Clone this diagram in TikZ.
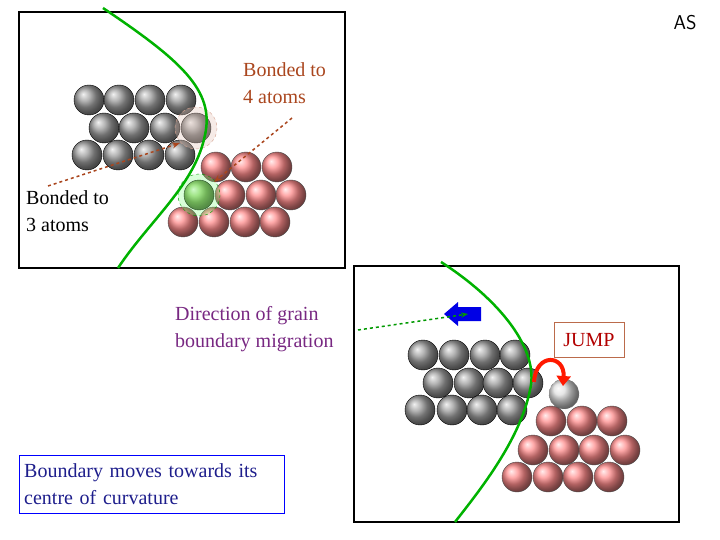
\documentclass[tikz,border=0pt]{standalone}
\usepackage{fontspec}
\setmainfont{Liberation Serif}
\usetikzlibrary{arrows.meta}
\definecolor{brn}{RGB}{170,70,30}
\definecolor{pur}{RGB}{120,40,130}
\definecolor{dblue}{RGB}{30,30,140}
\tikzset{
 gat/.style={circle,minimum size=30pt,inner sep=0pt,draw=black,thin,ball color=gray!75},
 rat/.style={circle,minimum size=30pt,inner sep=0pt,draw=black!70,thin,ball color=red!45},
 gb/.style={draw=green!70!black,line width=2.5pt},
 panel/.style={draw=black,line width=1.5pt},
 txt/.style={align=left,font=\fontsize{20}{27}\selectfont,inner sep=0pt,anchor=north west},
}
\begin{document}
\begin{tikzpicture}[x=1pt,y=-1pt]
\useasboundingbox (0,0) rectangle (720,540);
\node[font=\sffamily\fontsize{20}{20}\selectfont] (as) at (685,23) {AS};
% panel 1
\draw[panel] (19,12) rectangle (345,268);
\foreach \x in {89,119,150,181} \node[gat] at (\x,100) {};
\foreach \x in {104,134,165} \node[gat] at (\x,128) {};
\node[gat] (g4) at (196,128) {};
\foreach \x in {87,118,149,180} \node[gat] at (\x,155) {};
\foreach \x in {216,246,277} \node[rat] at (\x,167) {};
\node[circle,minimum size=30pt,inner sep=0pt,draw=black,ball color=green!45!brown!70] (g3) at (199,195) {};
\foreach \x in {230,261,291} \node[rat] at (\x,195) {};
\foreach \x in {183,214,245,275} \node[rat] at (\x,222) {};
\fill[brn!30,opacity=0.35] (196,128) circle (21);
\draw[brn!50,dashed] (196,128) circle (21);
\fill[green!50,opacity=0.3] (199,195) circle (21);
\draw[green!60!black,dashed] (199,195) circle (21);
\draw[gb] (103,8) .. controls (180,60) and (215,90) .. (205,135) .. controls (195,185) and (150,220) .. (118,268);
\node[txt,text=brn] (t4) at (243,62) {Bonded to\\4 atoms};
\node[txt] (t3) at (26,190) {Bonded to\\3 atoms};
\coordinate (a1) at (292,118);
\coordinate (a2) at (48,186);
\draw[brn,dashed,line width=1.5pt,-{Stealth[length=8pt]}] (a1) -- (214,182);
\draw[brn,dashed,line width=1.5pt,-{Stealth[length=8pt]}] (a2) -- (180,143);
% panel 2
\draw[panel] (354,266) rectangle (679,522);
\foreach \x in {423,454,485,515} \node[gat] at (\x,355) {};
\foreach \x in {438,469,498} \node[gat] at (\x,383) {};
\node[gat] (jm) at (528,383) {};
\foreach \x in {420,452,482,512} \node[gat] at (\x,410) {};
\node[circle,minimum size=30pt,inner sep=0pt,draw=gray,dashed,ball color=gray!25] (nw) at (564,394) {};
\foreach \x in {551,582,612} \node[rat] at (\x,421) {};
\foreach \x in {533,564,594,625} \node[rat] at (\x,450) {};
\foreach \x in {517,548,578,609} \node[rat] at (\x,477) {};
\draw[gb] (441,262) .. controls (500,300) and (540,350) .. (530,390) .. controls (520,440) and (480,490) .. (455,522);
\fill[blue!90!black] (458,302) -- (444,314) -- (458,326) -- (458,321) -- (481,321) -- (481,307) -- (458,307) -- cycle;
\node[txt,text=pur] (dir) at (175,306) {Direction of grain\\boundary migration};
\draw[green!60!black,dashed,line width=1.5pt,-{Stealth[length=7pt]}] (358,330) -- (468,314);
\node[draw=brn!80,text=red!70!black,font=\fontsize{20}{20}\selectfont,minimum width=70pt,minimum height=35pt,inner sep=0pt] (jump) at (589,340) {JUMP};
\draw[red!80!orange,line width=4pt,-{Triangle[length=10pt,width=14pt]}] (534,382) .. controls (536,352) and (565,355) .. (563,386);
\node[draw=blue,text=dblue,txt,inner sep=5pt,text width=255pt,minimum height=58pt,anchor=north west] (bm) at (19,455) {Boundary moves towards its\\centre of curvature};
\end{tikzpicture}
\end{document}
